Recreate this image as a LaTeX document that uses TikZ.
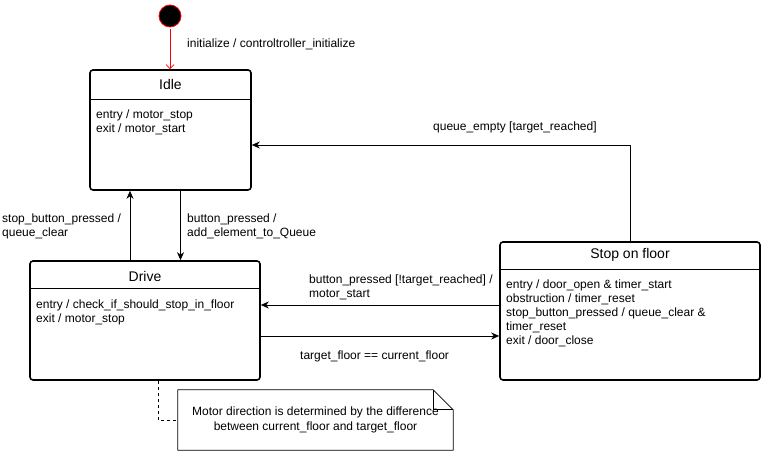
\documentclass[tikz,border=0pt]{standalone}
\usepackage{fontspec}
\setmainfont{Liberation Sans}
\usetikzlibrary{arrows.meta}
\begin{document}
\begin{tikzpicture}[>={Stealth[length=8bp,width=7bp,inset=2.5bp]},line join=bevel,
  statebox/.style={draw,line width=1.6bp,rounded corners=3bp,inner sep=0pt},
  statetitle/.style={inner sep=0pt,font=\fontsize{14bp}{16bp}\selectfont},
  statebody/.style={anchor=north west,align=left,inner sep=0pt,font=\fontsize{12bp}{14bp}\selectfont},
  translabel/.style={anchor=west,align=left,inner sep=0pt,font=\fontsize{12bp}{14bp}\selectfont},
  trans/.style={draw,line width=0.8bp,->},
]
\useasboundingbox (0bp,0bp) rectangle (761bp,451bp);
%%
\node (init) at (170bp,435bp) [circle,fill=black,draw=red,line width=0.8bp,minimum size=22bp,inner sep=0pt] {};
  \node (idle) at (170.5bp,321bp) [statebox,minimum width=161bp,minimum height=120bp] {};
  \node (idle title) at (170.5bp,366bp) [statetitle] {Idle};
  \node (idle body) at (96bp,341.5bp) [statebody] {entry / motor\_stop\\exit / motor\_start};
  \node (drive) at (145bp,130.5bp) [statebox,minimum width=230bp,minimum height=119bp] {};
  \node (drive title) at (145bp,175bp) [statetitle] {Drive};
  \node (drive body) at (36bp,151.5bp) [statebody] {entry / check\_if\_should\_stop\_in\_floor\\exit / motor\_stop};
  \node (stop) at (630bp,140bp) [statebox,minimum width=260bp,minimum height=138bp] {};
  \node (stop title) at (630bp,196bp) [statetitle] {Stop on floor};
  \node (stop body) at (506bp,171.5bp) [statebody] {entry / door\_open \& timer\_start\\obstruction / timer\_reset\\stop\_button\_pressed / queue\_clear \&\\timer\_reset\\exit / door\_close};
  \node (note) at (315.5bp,31bp) [minimum width=275bp,minimum height=60bp,inner sep=0pt,align=center,font=\fontsize{12bp}{15bp}\selectfont] {Motor direction is determined by the difference\\between current\_floor and target\_floor};
%
  \draw [line width=1.3bp] ([yshift=-30bp]idle.north west) -- ([yshift=-30bp]idle.north east);
  \draw [line width=1.3bp] ([yshift=-28bp]drive.north west) -- ([yshift=-28bp]drive.north east);
  \draw [line width=1.3bp] ([yshift=-28bp]stop.north west) -- ([yshift=-28bp]stop.north east);
  \draw [line width=0.8bp] (note.south west) -- (note.north west) -- ([xshift=-20bp]note.north east) -- ([yshift=-20bp]note.north east) -- (note.south east) -- cycle;
  \draw [line width=0.8bp] ([xshift=-20bp]note.north east) -- ([xshift=-20bp,yshift=-20bp]note.north east) -- ([yshift=-20bp]note.north east);
%
  \node (init label) at (187bp,407bp) [translabel] {initialize / controltroller\_initialize};
  \node (clear label) at (2bp,225bp) [translabel] {stop\_button\_pressed /\\queue\_clear};
  \node (add label) at (187bp,225bp) [translabel] {button\_pressed /\\add\_element\_to\_Queue};
  \node (empty label) at (433bp,324bp) [translabel] {queue\_empty [target\_reached]};
  \node (restart label) at (309bp,164bp) [translabel] {button\_pressed [!target\_reached] /\\motor\_start};
  \node (arrive label) at (300bp,95bp) [translabel] {target\_floor == current\_floor};
%
  \draw [red,line width=0.8bp,-{Straight Barb[length=4bp,width=8bp]},shorten <=2bp] (init) -- (init |- idle.north);
  \draw [trans] ([xshift=-15bp]drive.north) -- ([xshift=-15bp]drive.north |- idle.south);
  \draw [trans] ([xshift=10bp]idle.south) -- ([xshift=10bp]idle.south |- drive.north);
  \draw [trans] (stop.north) |- ([yshift=-15bp]idle.east);
  \draw [trans] ([yshift=6bp]stop.west) -- ([yshift=6bp]stop.west -| drive.east);
  \draw [trans] ([yshift=-15.5bp]drive.east) -- ([yshift=-15.5bp]drive.east -| stop.west);
  \draw [line width=0.8bp,dash pattern=on 3bp off 3bp] ([xshift=13bp]drive.south) |- (note.west);
%
\end{tikzpicture}
\end{document}
